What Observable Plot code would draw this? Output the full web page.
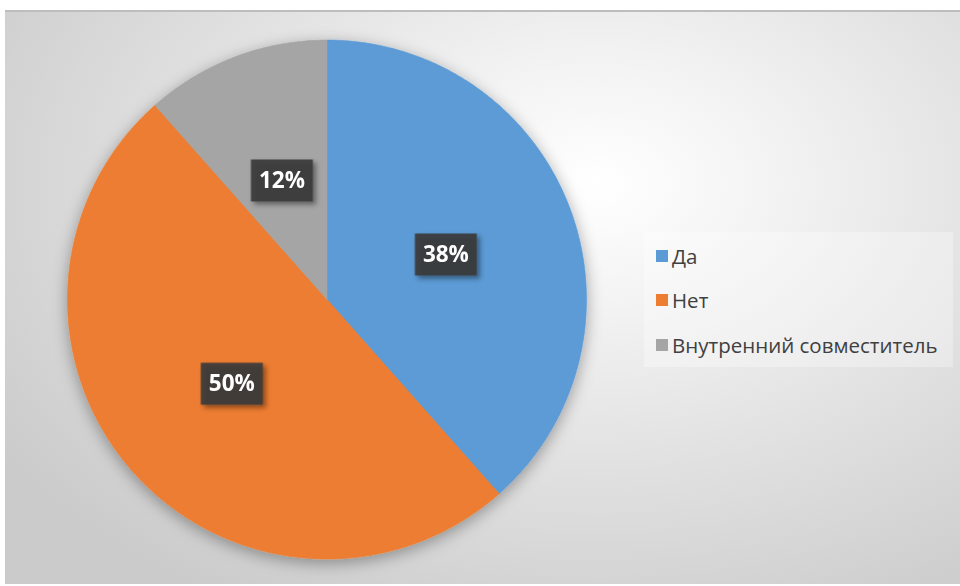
<!DOCTYPE html>
<html><head><meta charset="utf-8">
<script src="https://cdn.jsdelivr.net/npm/d3@7"></script>
<script src="https://cdn.jsdelivr.net/npm/@observablehq/plot@0.6"></script>
<style>
html,body{margin:0;padding:0;background:#fff;width:960px;height:586px;overflow:hidden;font-family:"Open Sans","Noto Sans",sans-serif;}
#bg{position:absolute;left:5px;top:10px;width:955px;height:574px;
  background:radial-gradient(ellipse 75% 85% at 62% 30%, #ffffff 0%, #f3f3f3 25%, #e0e0e0 60%, #cbcbcb 100%);
  border-top:2px solid #bdbdbd;box-sizing:border-box;}
#chart{position:absolute;left:0;top:0;}
#legend{position:absolute;left:644px;top:232px;width:309px;height:135px;background:rgba(255,255,255,0.3);}
.item{position:absolute;left:12px;height:24px;display:flex;align-items:center;font-size:20.5px;color:#404040;white-space:nowrap;}
.sw{width:12px;height:12px;margin-right:4px;flex:none;}
</style></head>
<body>
<div id="bg"></div>
<div id="chart"></div>
<div id="legend"></div>
<script>
const names = ["Да", "Нет", "Внутренний совместитель"];
const counts = [10, 13, 3];
const colors = ["#5B9BD5", "#ED7D31", "#A5A5A5"];
const labels = ["38%", "50%", "12%"];

const arcs = d3.pie().sort(null).value(d => d)(counts);

function sliceVerts(a) {
  const pts = [{x: 0, y: 0}];
  const n = Math.max(2, Math.ceil((a.endAngle - a.startAngle) / (Math.PI / 360)));
  for (let i = 0; i <= n; i++) {
    const t = a.startAngle + (a.endAngle - a.startAngle) * i / n;
    pts.push({x: Math.sin(t), y: Math.cos(t)});
  }
  pts.push({x: 0, y: 0});
  return pts;
}

const labelData = arcs.map((a, i) => {
  const m = (a.startAngle + a.endAngle) / 2;
  return {x: 0.49 * Math.sin(m), y: 0.49 * Math.cos(m), label: labels[i]};
});

const boxSymbol = {draw(ctx) { ctx.rect(-31, -21, 62, 42); }};

const cx = 326.5, cy = 299, R = 259.5;

const plot = Plot.plot({
  width: 960, height: 586,
  margin: 0,
  x: {domain: [-1, 1], range: [cx - R, cx + R], axis: null},
  y: {domain: [-1, 1], range: [cy + R, cy - R], axis: null},
  style: {background: "transparent", overflow: "visible"},
  marks: [
    ...arcs.map((a, i) => Plot.line(sliceVerts(a), {x: "x", y: "y", fill: colors[i], stroke: colors[i], strokeWidth: 0.6, curve: "linear"})),
    Plot.dot(labelData, {x: "x", y: "y", symbol: boxSymbol, fill: "#3b3b3b", fillOpacity: 0.92, stroke: "none"}),
    Plot.text(labelData, {x: "x", y: "y", text: "label", fill: "#ffffff", fontSize: 22.5, fontWeight: "bold", fontFamily: "Open Sans"})
  ]
});
document.getElementById("chart").appendChild(plot);

// shadows
const svg = d3.select(plot);
const defs = svg.insert("defs", ":first-child");
const f1 = defs.append("filter").attr("id", "pieShadow").attr("x", "-20%").attr("y", "-20%").attr("width", "140%").attr("height", "140%");
f1.append("feDropShadow").attr("dx", 0).attr("dy", 4).attr("stdDeviation", 8).attr("flood-color", "#000").attr("flood-opacity", 0.35);
const f2 = defs.append("filter").attr("id", "boxShadow").attr("x", "-30%").attr("y", "-30%").attr("width", "170%").attr("height", "170%");
f2.append("feDropShadow").attr("dx", 3).attr("dy", 3).attr("stdDeviation", 2.5).attr("flood-color", "#000").attr("flood-opacity", 0.45);
const lines = svg.selectAll("g[aria-label='line']").nodes();
if (lines.length) {
  const wrap = svg.insert("g", () => lines[0]).attr("filter", "url(#pieShadow)");
  lines.forEach(n => wrap.node().appendChild(n));
}
svg.selectAll("g[aria-label='dot']").attr("filter", "url(#boxShadow)");

// legend
const legend = document.getElementById("legend");
const tops = [12, 56, 101];
names.forEach((n, i) => {
  const it = document.createElement("div");
  it.className = "item";
  it.style.top = tops[i] + "px";
  const sw = document.createElement("span");
  sw.className = "sw"; sw.style.background = colors[i];
  const tx = document.createElement("span");
  tx.textContent = n;
  it.appendChild(sw); it.appendChild(tx);
  legend.appendChild(it);
});
</script>
</body></html>
